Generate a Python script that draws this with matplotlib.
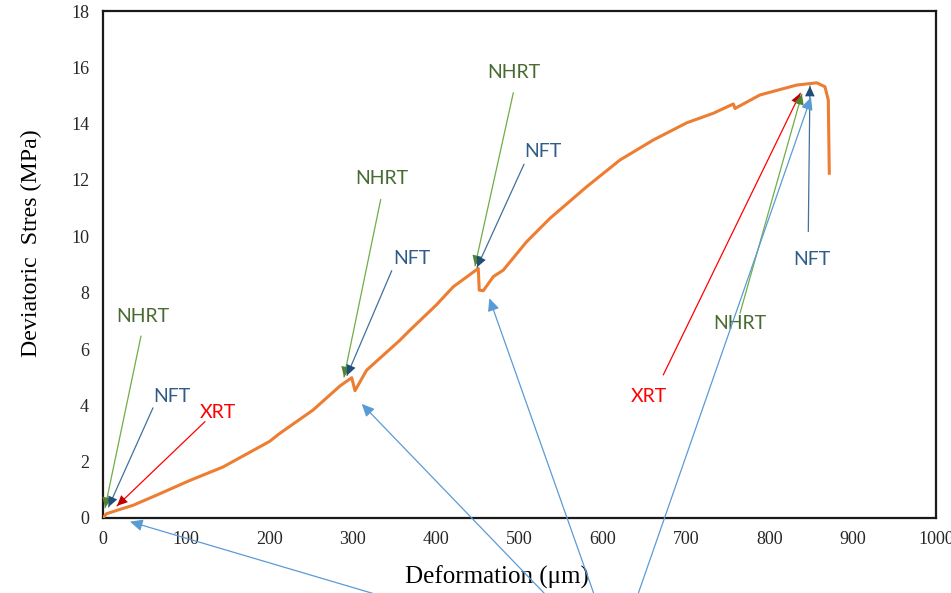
import matplotlib.pyplot as plt

# stress-deformation curve
deformation = [0, 4, 24, 36, 65, 104, 144, 200, 212, 252, 285, 298.6, 302.5, 316.5,
               356, 368.5, 400, 420.5, 450.5, 451.7, 456.5, 468.6, 480.5, 508.6,
               536.6, 580.6, 620.6, 660.6, 700.7, 732.7, 756.7, 758.7, 788.7,
               832.7, 856.8, 866.7, 870.7, 871.9]
stress = [0, 0.15, 0.34, 0.45, 0.82, 1.33, 1.81, 2.72, 3.0, 3.83, 4.7, 4.98, 4.52, 5.25,
          6.3, 6.67, 7.56, 8.21, 8.86, 8.09, 8.07, 8.57, 8.8, 9.81,
          10.64, 11.76, 12.71, 13.42, 14.03, 14.37, 14.70, 14.54, 15.02,
          15.37, 15.45, 15.31, 14.84, 12.24]

x_ticks = list(range(0, 1001, 100))
y_ticks = list(range(0, 19, 2))

# callouts: label, text position, line start, arrow tip
callouts = [
    ('NHRT', (48.0, 7.17), (45.6, 6.46), (2.4, 0.36)),
    ('NFT', (82.8, 4.33), (60.0, 3.91), (6.6, 0.39)),
    ('XRT', (138, 3.76), (122.4, 3.42), (16.8, 0.43)),
    ('NHRT', (334.6, 12.06), (333.4, 11.31), (289.3, 5.0)),
    ('NFT', (370.6, 9.22), (346.6, 8.78), (292.9, 5.06)),
    ('NHRT', (493.4, 15.83), (492.6, 15.1), (446.6, 8.95)),
    ('NFT', (528.6, 13.0), (505.4, 12.56), (449.0, 8.9)),
    ('XRT', (655.8, 4.31), (672.6, 5.08), (837.1, 15.08)),
    ('NHRT', (764.7, 6.91), (764.7, 7.27), (839.0, 15.05)),
    ('NFT', (851.5, 9.19), (846.7, 10.17), (848.7, 15.34)),
]
# light blue pointers coming from below the chart
drop_tails = [(326.5, -2.7), (530.6, -2.7), (589.4, -2.7), (642.3, -2.7)]
drop_tips = [(32.4, -0.13), (310.6, 4.05), (463.8, 7.8), (850.0, 14.94)]

styles = {
    'NHRT': ('#476B30', '#70AD47', '#548235'),
    'NFT': ('#2F5C8A', '#41719C', '#1F4E79'),
    'XRT': ('#FF0000', '#FF0000', '#C00000'),
}

fig = plt.figure(figsize=(9.51, 5.93), dpi=100)
ax = fig.add_axes([103 / 951, 1 - 518 / 593, 833 / 951, 507 / 593])

ax.plot(deformation, stress, color='#ED7D31', lw=2.2, zorder=3)

ax.set_xlim(0, 1000)
ax.set_ylim(0, 18)
ax.set_xticks(x_ticks)
ax.set_yticks(y_ticks)
ax.tick_params(length=0, labelsize=13, colors='#262626')
ax.tick_params(axis='x', pad=9)
ax.tick_params(axis='y', pad=10)
for lab in ax.get_xticklabels() + ax.get_yticklabels():
    lab.set_fontfamily('Liberation Serif')
for s in ax.spines.values():
    s.set_linewidth(1.6)
    s.set_color('#1a1a1a')

ax.set_xlabel('Deformation (μm)', fontsize=18, fontfamily='Liberation Serif')
ax.set_ylabel('Deviatoric  Stres (MPa)', fontsize=17.2, fontfamily='Liberation Serif')
ax.xaxis.set_label_coords(0.473, -0.093)
ax.yaxis.set_label_coords(-0.073, 0.543)

head = '-|>,head_length=0.75,head_width=0.35'


def pointer(tail, tip, line_c, head_c):
    ax.annotate('', xy=tip, xytext=tail, annotation_clip=False,
                arrowprops=dict(arrowstyle='-', color=line_c, lw=0.9,
                                shrinkA=0, shrinkB=0))
    ax.annotate('', xy=tip, xytext=tail, annotation_clip=False,
                arrowprops=dict(arrowstyle=head, color=head_c, lw=0,
                                shrinkA=0, shrinkB=0, mutation_scale=10))


for label, txt, tail, tip in callouts:
    tc, lc, hc = styles[label]
    ax.text(txt[0], txt[1], label, color=tc, fontsize=14, fontfamily='Lato',
            ha='center', va='center')
    pointer(tail, tip, lc, hc)

for tail, tip in zip(drop_tails, drop_tips):
    ax.annotate('', xy=tip, xytext=tail, annotation_clip=False,
                arrowprops=dict(arrowstyle=head, color='#5B9BD5', lw=0.9,
                                shrinkA=0, shrinkB=0, mutation_scale=10))

fig.savefig('out.png', dpi=100)
